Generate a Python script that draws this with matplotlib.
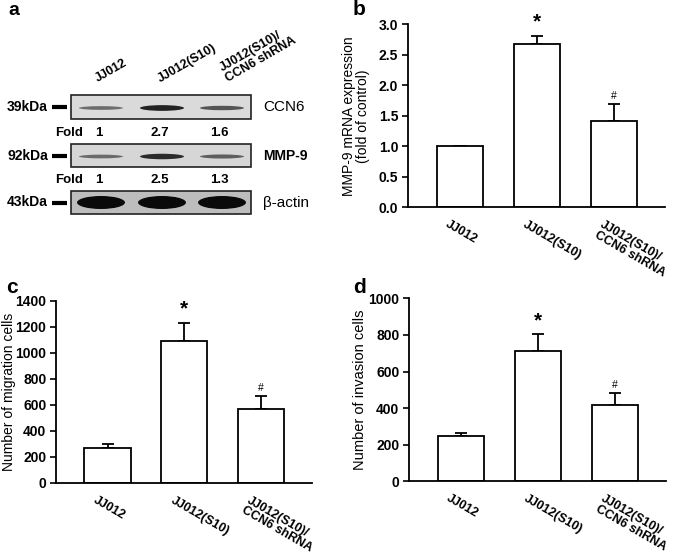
import numpy as np
import matplotlib
matplotlib.use('Agg')
from matplotlib import pyplot as plt
from matplotlib.patches import Ellipse, Rectangle
from matplotlib.transforms import ScaledTranslation

plt.rcParams['font.family'] = ['Liberation Sans', 'DejaVu Sans']

groups = ['JJ012', 'JJ012(S10)', 'JJ012(S10)/\nCCN6 shRNA']
mrna = [1.0, 2.67, 1.42]
mrna_err = [0.0, 0.14, 0.28]
migration = [266, 1088, 566]
migration_err = [34, 143, 104]
invasion = [246, 714, 417]
invasion_err = [16, 89, 64]
ccn6_fold = [1, 2.7, 1.6]
mmp9_fold = [1, 2.5, 1.3]
blot_names = ['CCN6', 'MMP-9', '\u03b2-actin']
blot_kda = ['39kDa', '92kDa', '43kDa']

W, H = 685, 555
fig = plt.figure(figsize=(6.85, 5.55), dpi=100)

#----------------------------------------
# panel a : western blot, drawn in pixel coords
ax = fig.add_axes([0, 1 - 280 / H, 340 / W, 280 / H])
ax.set_xlim(0, 340)
ax.set_ylim(280, 0)
ax.axis('off')

lanes = [101, 162, 222]
boxes = [(95, 119), (144, 167), (191, 214)]
bg = ['#dadada', '#d6d6d6', '#bdbdbd']
for k, (y0, y1) in enumerate(boxes):
    ax.add_patch(Rectangle((71, y0), 180, y1 - y0, facecolor=bg[k],
                           edgecolor='#222222', lw=1.2))
    yc = (y0 + y1) / 2
    ax.text(48, yc, blot_kda[k], ha='right', va='center', fontsize=10, fontweight='bold')
    ax.plot([52, 67], [yc, yc], color='black', lw=3, solid_capstyle='butt')
    ax.text(263, yc, blot_names[k], ha='left', va='center', fontsize=11 if k != 1 else 10,
            fontweight='bold' if k == 1 else 'normal')

# bands
for k, folds in enumerate([ccn6_fold, mmp9_fold]):
    y0, y1 = boxes[k]
    yc = (y0 + y1) / 2 + 1
    for x, f in zip(lanes, folds):
        ax.add_patch(Ellipse((x, yc), 44, 2.5 + 1.2 * f, facecolor='black',
                             alpha=min(0.3 + 0.2 * f, 0.9), lw=0))
for x in lanes:
    ax.add_patch(Ellipse((x, 202.5), 48, 13, facecolor='#0a0a0a', lw=0))

for k, folds in enumerate([ccn6_fold, mmp9_fold]):
    yf = 133 if k == 0 else 180
    ax.text(55, yf, 'Fold', ha='left', va='center', fontsize=9.5, fontweight='bold')
    for x, f in zip([99, 160, 219], folds):
        ax.text(x, yf, '%g' % f, ha='center', va='center', fontsize=9.5, fontweight='bold')

for x, g in zip([98, 160, 228], groups):
    ax.text(x, 82, g, rotation=30, rotation_mode='anchor', ha='left', va='baseline',
            fontsize=9, fontweight='bold', linespacing=1.0)
ax.text(8, 2, 'a', ha='left', va='top', fontsize=14, fontweight='bold')

#----------------------------------------
# bar panels
def bar_panel(rect, vals, errs, ylim, yticks, ylabel, fmt, letter, letter_xy, ylab_x, ylab_fs):
    a = fig.add_axes(rect)
    x = np.arange(len(vals))
    a.bar(x, vals, width=0.6, facecolor='white', edgecolor='black', lw=1.3, zorder=2)
    a.errorbar(x, vals, yerr=[np.zeros(len(errs)), errs], fmt='none', ecolor='black',
               elinewidth=1.3, capsize=4.5, capthick=1.3, zorder=1)
    a.set_xlim(-0.67, 2.66)
    a.set_ylim(*ylim)
    a.set_yticks(yticks)
    a.set_yticklabels([fmt % t for t in yticks], fontsize=10, fontweight='bold')
    a.set_xticks(x)
    a.set_xticklabels(groups, rotation=-30, rotation_mode='anchor', ha='left', va='top',
                      fontsize=9, fontweight='bold', linespacing=1.0)
    a.tick_params(axis='x', length=0, pad=8)
    a.tick_params(axis='y', direction='out', length=4, width=1.2, pad=3)
    off = ScaledTranslation(-10 / 100, 0, fig.dpi_scale_trans)
    for lab in a.get_xticklabels():
        lab.set_transform(lab.get_transform() + off)
    for s in ['top', 'right']:
        a.spines[s].set_visible(False)
    for s in ['left', 'bottom']:
        a.spines[s].set_linewidth(1.3)
    a.set_ylabel(ylabel, fontsize=ylab_fs, linespacing=1.0)
    a.yaxis.set_label_coords(ylab_x, rect[1] + rect[3] / 2, transform=fig.transFigure)
    top1 = vals[1] + errs[1]
    top2 = vals[2] + errs[2]
    a.annotate('*', (1, top1), xytext=(0, 3), textcoords='offset points', ha='center',
               va='bottom', fontsize=15, fontweight='bold')
    a.annotate('#', (2, top2), xytext=(0, 2), textcoords='offset points', ha='center',
               va='bottom', fontsize=7.5)
    fig.text(letter_xy[0] / W, 1 - letter_xy[1] / H, letter, ha='left', va='top',
             fontsize=15, fontweight='bold')
    return a

bar_panel([408 / W, 1 - 207.3 / H, 257 / W, 183 / H], mrna, mrna_err, (0, 3.0),
          np.arange(0, 3.01, 0.5), 'MMP-9 mRNA expression\n(fold of control)', '%.1f',
          'b', (353, 0), 370 / W, 10)
bar_panel([56 / W, 1 - 483 / H, 256 / W, 182.3 / H], migration, migration_err, (0, 1400),
          np.arange(0, 1401, 200), 'Number of migration cells', '%d',
          'c', (6, 278), 16 / W, 10)
bar_panel([409 / W, 1 - 481.3 / H, 257 / W, 183 / H], invasion, invasion_err, (0, 1000),
          np.arange(0, 1001, 200), 'Number of invasion cells', '%d',
          'd', (353, 278), 367 / W, 10.5)

plt.savefig('out.png', dpi=100)
